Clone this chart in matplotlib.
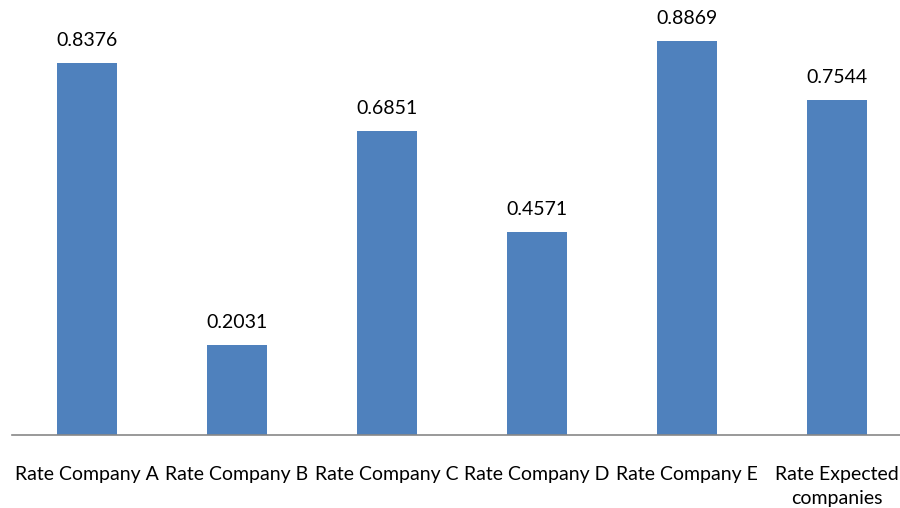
import matplotlib
matplotlib.use("Agg")
import matplotlib.pyplot as plt

categories = ["Rate Company A", "Rate Company B", "Rate Company C",
              "Rate Company D", "Rate Company E", "Rate Expected\ncompanies"]
values = [0.8376, 0.2031, 0.6851, 0.4571, 0.8869, 0.7544]

BAR_COLOR = "#4F81BD"

plt.rcParams["font.family"] = ["Lato", "DejaVu Sans"]

fig = plt.figure(figsize=(9, 5.08), dpi=100)
ax = fig.add_axes([12 / 900, 73 / 508, 888 / 900, 435 / 508])

x = list(range(len(categories)))
bars = ax.bar(x, values, width=0.4, color=BAR_COLOR)

for xi, v in zip(x, values):
    ax.annotate(f"{v:.4f}", (xi, v), xytext=(0, 10), textcoords="offset points",
                ha="center", va="bottom", fontsize=14, color="black")

ax.set_xlim(-0.5, 5.42)
ax.set_ylim(0, 0.98)
ax.set_xticks(x)
ax.set_xticklabels(categories, fontsize=14, color="black", linespacing=1.5)
ax.tick_params(axis="x", length=0, pad=22)
ax.set_yticks([])
for s in ["top", "right", "left"]:
    ax.spines[s].set_visible(False)
ax.spines["bottom"].set_color("#888888")
ax.spines["bottom"].set_linewidth(1.2)

fig.savefig("out.png", dpi=100)
